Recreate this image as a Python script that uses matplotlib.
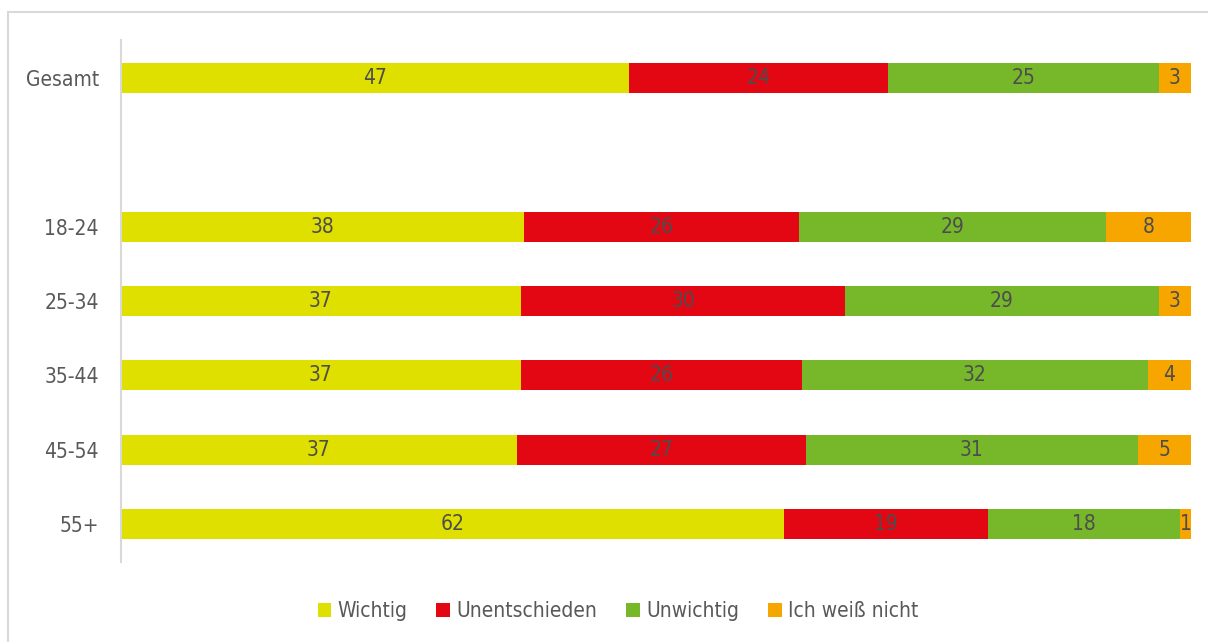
import numpy as np
import matplotlib.pyplot as plt
from matplotlib.patches import Rectangle

plt.rcParams['font.family'] = ['DejaVu Sans']
plt.rcParams['font.stretch'] = 'condensed'

groups = ["Gesamt", "", "18-24", "25-34", "35-44", "45-54", "55+"]
series = ["Wichtig", "Unentschieden", "Unwichtig", "Ich weiß nicht"]
wichtig = [47, None, 38, 37, 37, 37, 62]
unentschieden = [24, None, 26, 30, 26, 27, 19]
unwichtig = [25, None, 29, 29, 32, 31, 18]
weiss_nicht = [3, None, 8, 3, 4, 5, 1]
colors = ["#DFDF00", "#E30613", "#76B82A", "#F7A600"]
text_color = "#595959"

fig = plt.figure(figsize=(12.08, 6.42), dpi=100)
ax = fig.add_axes([121 / 1208, 1 - 562 / 642, 1070 / 1208, 522 / 642])

# Rahmen um die Grafik
fig.patches.append(Rectangle((8 / 1208, -0.1), 1.1, 1.1 - 12 / 642, transform=fig.transFigure,
                             fill=False, edgecolor="#D9D9D9", linewidth=1.5))

data = [wichtig, unentschieden, unwichtig, weiss_nicht]
for i, name in enumerate(groups):
    if wichtig[i] is None:
        continue
    vals = [d[i] for d in data]
    total = sum(vals)
    left = 0
    for j, v in enumerate(vals):
        w = v / total
        ax.barh(i, w, left=left, height=0.4, color=colors[j],
                label=series[j] if i == 0 else None)
        ax.text(left + w / 2, i, str(v), ha="center", va="center",
                fontsize=15, color="#4D4D4D")
        left += w

ax.set_xlim(0, 1)
ax.set_ylim(6.51, -0.51)
ax.set_yticks(range(len(groups)))
ax.set_yticklabels(groups, fontsize=15, color=text_color)
ax.tick_params(axis="y", length=0, pad=16)
ax.set_xticks([])
for s in ["top", "right", "bottom"]:
    ax.spines[s].set_visible(False)
ax.spines["left"].set_color("#D9D9D9")
ax.spines["left"].set_linewidth(1.5)

leg = fig.legend(loc="center", bbox_to_anchor=(618 / 1208, 1 - 611 / 642), ncol=4,
                 frameon=False, fontsize=15, handlelength=0.65, handleheight=0.65,
                 handletextpad=0.3, columnspacing=1.4)
for t in leg.get_texts():
    t.set_color(text_color)

fig.savefig("out.png", dpi=100)
